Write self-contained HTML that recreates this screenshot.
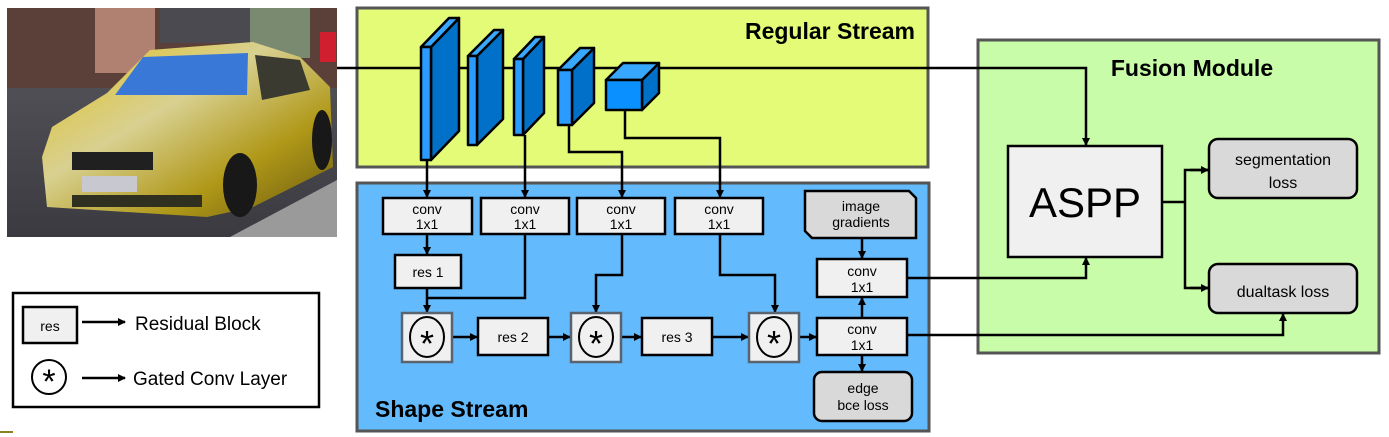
<!DOCTYPE html>
<html><head><meta charset="utf-8"><style>
html,body{margin:0;padding:0;background:#fff;}
svg{display:block;font-family:"Liberation Sans",sans-serif;}
</style></head><body>
<svg width="1389" height="437" viewBox="0 0 1389 437" xmlns="http://www.w3.org/2000/svg">
<defs>
<marker id="ar" markerWidth="8" markerHeight="8" refX="7" refY="4" orient="auto" markerUnits="userSpaceOnUse"><path d="M0,0 L8,4 L0,8 z" fill="#000"/></marker>
<linearGradient id="road" x1="0" y1="0" x2="0" y2="1"><stop offset="0" stop-color="#5a5a60"/><stop offset="1" stop-color="#3a3a40"/></linearGradient>
<linearGradient id="carg" x1="0" y1="0" x2="1" y2="1"><stop offset="0" stop-color="#e0c020"/><stop offset="0.4" stop-color="#d8d090"/><stop offset="0.7" stop-color="#b09818"/><stop offset="1" stop-color="#6a5a10"/></linearGradient>
</defs>
<g>
<rect x="7" y="8" width="330" height="229" fill="url(#road)"/>
<rect x="7" y="8" width="330" height="80" fill="#5a4038"/>
<rect x="95" y="8" width="60" height="65" fill="#b08070"/>
<rect x="160" y="8" width="90" height="35" fill="#4a4a50"/>
<rect x="250" y="8" width="60" height="50" fill="#7a8a70"/>
<rect x="320" y="32" width="16" height="30" fill="#d02030"/>
<polygon points="230,237 337,180 337,237" fill="#9a9a9a"/>
<polygon points="42,157 52,127 107,93 150,50 253,42 300,57 330,87 333,167 253,207 207,217 47,207" fill="url(#carg)"/>
<polygon points="115,95 143,57 248,53 247,95" fill="#3a78d8"/>
<polygon points="255,55 300,60 310,90 262,100" fill="#3a3a30"/>
<rect x="72" y="152" width="81" height="18" fill="#202020"/>
<rect x="82" y="176" width="55" height="16" fill="#c8c8d0"/>
<rect x="72" y="195" width="130" height="12" fill="#303020"/>
<ellipse cx="240" cy="185" rx="17" ry="32" fill="#181818"/>
<ellipse cx="322" cy="140" rx="10" ry="30" fill="#181818"/>
</g>
<rect x="13" y="293" width="306" height="114" fill="#fff" stroke="#000" stroke-width="2.5"/>
<rect x="23" y="307" width="54" height="36" fill="#f0f0f0" stroke="#000" stroke-width="2.5"/>
<text x="50" y="331" font-size="14" text-anchor="middle">res</text>
<line x1="82" y1="322" x2="125" y2="322" stroke="#000" stroke-width="2.5" marker-end="url(#ar)"/>
<text x="135" y="330" font-size="19">Residual Block</text>
<circle cx="49" cy="377" r="17" fill="#fff" stroke="#000" stroke-width="2"/>
<text x="49" y="393" font-size="34" text-anchor="middle">*</text>
<line x1="82" y1="378" x2="125" y2="378" stroke="#000" stroke-width="2.5" marker-end="url(#ar)"/>
<text x="133" y="385" font-size="19">Gated Conv Layer</text>
<rect x="0" y="431" width="13" height="2" fill="#8a8020"/>
<rect x="357" y="8" width="571" height="159" fill="#e3fb76" stroke="#555" stroke-width="3"/>
<text x="915" y="39" font-size="23" font-weight="bold" text-anchor="end">Regular Stream</text>
<rect x="357" y="183" width="572" height="248" fill="#63bafc" stroke="#555" stroke-width="3"/>
<text x="375" y="417" font-size="23" font-weight="bold">Shape Stream</text>
<rect x="978" y="40" width="401" height="313" fill="#c8fca8" stroke="#555" stroke-width="3"/>
<text x="1192" y="76" font-size="23" font-weight="bold" text-anchor="middle">Fusion Module</text>
<polyline points="337,68 1086,68 1086,145" fill="none" stroke="#000" stroke-width="2.5" marker-end="url(#ar)"/>
<g stroke="#000" stroke-width="2.5" stroke-linejoin="round">
<polygon points="431,47 459,18 459,131 431,160" fill="#0070c8"/><polygon points="421,47 449,18 459,18 431,47" fill="#38a8ff"/><rect x="421" y="47" width="10" height="113" fill="#2a9cff"/>
<polygon points="477,56 503,30 503,119 477,145" fill="#0070c8"/><polygon points="468,56 494,30 503,30 477,56" fill="#38a8ff"/><rect x="468" y="56" width="9" height="89" fill="#2a9cff"/>
<polygon points="523,59 544,37 544,113 523,135" fill="#0070c8"/><polygon points="514,59 535,37 544,37 523,59" fill="#38a8ff"/><rect x="514" y="59" width="9" height="76" fill="#2a9cff"/>
<polygon points="572,70 594,48 594,103 572,125" fill="#0070c8"/><polygon points="558,70 580,48 594,48 572,70" fill="#38a8ff"/><rect x="558" y="70" width="14" height="55" fill="#2a9cff"/>
<polygon points="642,80 659,63 659,93 642,110" fill="#0070c8"/><polygon points="606,80 623,63 659,63 642,80" fill="#38a8ff"/><rect x="606" y="80" width="36" height="30" fill="#0a90ff"/>
</g>
<g fill="none" stroke="#000" stroke-width="2.5">
<line x1="427" y1="160" x2="427" y2="197" marker-end="url(#ar)"/>
<line x1="525" y1="135" x2="525" y2="197" marker-end="url(#ar)"/>
<polyline points="569,125 569,152 622,152 622,197" marker-end="url(#ar)"/>
<polyline points="625,110 625,138 720,138 720,197" marker-end="url(#ar)"/>
<line x1="427" y1="234" x2="427" y2="254" marker-end="url(#ar)"/>
<polyline points="525,234 525,298 427,298"/>
<line x1="427" y1="288" x2="427" y2="312" marker-end="url(#ar)"/>
<polyline points="622,234 622,275 596,275 596,312" marker-end="url(#ar)"/>
<polyline points="720,234 720,275 775,275 775,312" marker-end="url(#ar)"/>
<line x1="452" y1="337" x2="477" y2="337" marker-end="url(#ar)"/>
<line x1="548" y1="337" x2="570" y2="337" marker-end="url(#ar)"/>
<line x1="621" y1="337" x2="641" y2="337" marker-end="url(#ar)"/>
<line x1="712" y1="337" x2="748" y2="337" marker-end="url(#ar)"/>
<line x1="799" y1="337" x2="816" y2="337" marker-end="url(#ar)"/>
<line x1="862" y1="238" x2="862" y2="258" marker-end="url(#ar)"/>
<line x1="862" y1="318" x2="862" y2="298" marker-end="url(#ar)"/>
<line x1="862" y1="355" x2="862" y2="371" marker-end="url(#ar)"/>
<polyline points="907,278 1086,278 1086,258" marker-end="url(#ar)"/>
<polyline points="907,335 1283,335 1283,314" marker-end="url(#ar)"/>
<polyline points="1162,202 1185,202"/>
<polyline points="1208,170 1185,170 1185,288 1208,288"/>
<line x1="1190" y1="170" x2="1208" y2="170" marker-end="url(#ar)"/>
<line x1="1190" y1="288" x2="1208" y2="288" marker-end="url(#ar)"/>
</g>
<g stroke="#000" stroke-width="2.5" fill="#f0f0f0">
<rect x="383" y="198" width="89" height="36"/>
<rect x="481" y="198" width="88" height="36"/>
<rect x="577" y="198" width="88" height="36"/>
<rect x="675" y="198" width="88" height="36"/>
<rect x="395" y="255" width="66" height="33"/>
<rect x="478" y="318" width="70" height="37"/>
<rect x="642" y="318" width="70" height="37"/>
<rect x="817" y="259" width="90" height="38"/>
<rect x="817" y="318" width="90" height="37"/>
<polygon points="805,191 909,191 916,198 916,238 812,238 805,231" fill="#d9d9d9"/>
<rect x="814" y="372" width="98" height="49" rx="8" fill="#d9d9d9"/>
<rect x="1008" y="146" width="154" height="111"/>
<rect x="1209" y="139" width="148" height="59" rx="9" fill="#d9d9d9"/>
<rect x="1209" y="264" width="148" height="49" rx="9" fill="#d9d9d9"/>
</g>
<g stroke="#5a6470" stroke-width="2.5" fill="#f0f0f0">
<rect x="402" y="313" width="50" height="49"/>
<rect x="571" y="313" width="50" height="49"/>
<rect x="749" y="313" width="50" height="49"/>
</g>
<g fill="none" stroke="#000" stroke-width="2">
<ellipse cx="427" cy="337" rx="17" ry="20"/>
<ellipse cx="596" cy="337" rx="17" ry="20"/>
<ellipse cx="774" cy="337" rx="17" ry="20"/>
</g>
<g font-size="36" text-anchor="middle">
<text x="427" y="356">*</text><text x="596" y="356">*</text><text x="774" y="356">*</text>
</g>
<g font-size="14" text-anchor="middle">
<text x="427" y="214">conv</text><text x="427" y="229">1x1</text>
<text x="525" y="214">conv</text><text x="525" y="229">1x1</text>
<text x="621" y="214">conv</text><text x="621" y="229">1x1</text>
<text x="719" y="214">conv</text><text x="719" y="229">1x1</text>
<text x="428" y="277">res 1</text>
<text x="513" y="342">res 2</text>
<text x="677" y="342">res 3</text>
<text x="862" y="276">conv</text><text x="862" y="292">1x1</text>
<text x="862" y="334">conv</text><text x="862" y="350">1x1</text>
<text x="861" y="211">image</text><text x="861" y="227">gradients</text>
<text x="863" y="393">edge</text><text x="863" y="410">bce loss</text>
</g>
<g font-size="16" text-anchor="middle">
<text x="1283" y="165">segmentation</text><text x="1283" y="188">loss</text>
<text x="1283" y="297">dualtask loss</text>
</g>
<text x="1085" y="217" font-size="42" text-anchor="middle">ASPP</text>
</svg>
</body></html>
